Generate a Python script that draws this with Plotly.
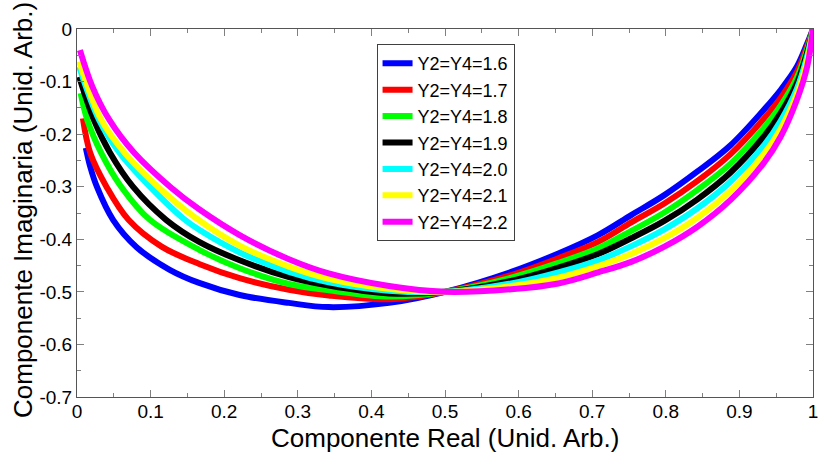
import plotly.graph_objects as go

# Locus of the imaginary vs. real component for each Y2=Y4 admittance value
labels = ["Y2=Y4=1.6", "Y2=Y4=1.7", "Y2=Y4=1.8", "Y2=Y4=1.9",
          "Y2=Y4=2.0", "Y2=Y4=2.1", "Y2=Y4=2.2"]
colors = ["#0000ff", "#ff0000", "#00ff00", "#000000",
          "#00ffff", "#ffff00", "#ff00ff"]

re_16 = [0.012, 0.018, 0.027, 0.049, 0.081, 0.126, 0.166, 0.221, 0.288, 0.342, 0.424, 0.500,
         0.590, 0.654, 0.708, 0.753, 0.798, 0.843, 0.888, 0.933, 0.956, 0.978, 0.992, 1.000]
im_16 = [-0.226, -0.262, -0.300, -0.363, -0.415, -0.458, -0.483, -0.506, -0.521, -0.529, -0.521, -0.500,
         -0.462, -0.427, -0.392, -0.354, -0.316, -0.271, -0.221, -0.154, -0.116, -0.072, -0.028, 0.000]

re_17 = [0.008, 0.018, 0.040, 0.070, 0.115, 0.166, 0.221, 0.288, 0.342, 0.424, 0.500,
         0.590, 0.654, 0.708, 0.753, 0.798, 0.843, 0.888, 0.933, 0.956, 0.978, 0.992, 1.000]
im_17 = [-0.170, -0.236, -0.300, -0.363, -0.414, -0.447, -0.474, -0.496, -0.507, -0.514, -0.500,
         -0.468, -0.436, -0.405, -0.368, -0.332, -0.289, -0.238, -0.171, -0.131, -0.082, -0.033, 0.000]

re_18 = [0.005, 0.014, 0.033, 0.060, 0.099, 0.166, 0.221, 0.288, 0.342, 0.424, 0.500,
         0.590, 0.654, 0.708, 0.753, 0.798, 0.843, 0.888, 0.933, 0.956, 0.978, 0.992, 1.000]
im_18 = [-0.122, -0.173, -0.236, -0.300, -0.363, -0.420, -0.455, -0.485, -0.497, -0.509, -0.500,
         -0.473, -0.445, -0.417, -0.384, -0.349, -0.306, -0.256, -0.188, -0.146, -0.093, -0.039, 0.000]

re_19 = [0.003, 0.023, 0.045, 0.076, 0.121, 0.166, 0.221, 0.288, 0.342, 0.424, 0.500,
         0.590, 0.654, 0.708, 0.753, 0.798, 0.843, 0.888, 0.933, 0.956, 0.978, 0.992, 1.000]
im_19 = [-0.091, -0.173, -0.236, -0.300, -0.363, -0.405, -0.440, -0.472, -0.488, -0.503, -0.500,
         -0.479, -0.454, -0.428, -0.398, -0.365, -0.324, -0.273, -0.205, -0.160, -0.103, -0.045, 0.000]

re_20 = [0.003, 0.030, 0.058, 0.099, 0.144, 0.166, 0.221, 0.288, 0.342, 0.424, 0.500,
         0.590, 0.654, 0.708, 0.753, 0.798, 0.843, 0.888, 0.933, 0.956, 0.978, 0.992, 1.000]
im_20 = [-0.072, -0.173, -0.236, -0.300, -0.360, -0.382, -0.425, -0.462, -0.482, -0.498, -0.500,
         -0.484, -0.463, -0.440, -0.413, -0.381, -0.341, -0.290, -0.222, -0.175, -0.114, -0.052, 0.000]

re_21 = [0.003, 0.033, 0.065, 0.110, 0.162, 0.221, 0.288, 0.342, 0.424, 0.500,
         0.590, 0.654, 0.708, 0.753, 0.798, 0.843, 0.888, 0.933, 0.956, 0.978, 0.992, 1.000]
im_21 = [-0.062, -0.173, -0.236, -0.300, -0.360, -0.412, -0.452, -0.475, -0.494, -0.500,
         -0.489, -0.473, -0.451, -0.428, -0.398, -0.359, -0.308, -0.238, -0.190, -0.124, -0.060, 0.000]

re_22 = [0.004, 0.021, 0.044, 0.078, 0.128, 0.166, 0.221, 0.288, 0.342, 0.424, 0.500,
         0.590, 0.654, 0.708, 0.753, 0.798, 0.843, 0.888, 0.933, 0.956, 0.978, 0.992, 1.000]
im_22 = [-0.040, -0.110, -0.173, -0.236, -0.302, -0.343, -0.392, -0.438, -0.465, -0.489, -0.500,
         -0.495, -0.484, -0.463, -0.443, -0.414, -0.376, -0.325, -0.255, -0.205, -0.135, -0.072, 0.000]

series_re = [re_16, re_17, re_18, re_19, re_20, re_21, re_22]
series_im = [im_16, im_17, im_18, im_19, im_20, im_21, im_22]

x_ticks = [0, 0.1, 0.2, 0.3, 0.4, 0.5, 0.6, 0.7, 0.8, 0.9, 1]
x_ticktext = ["0", "0.1", "0.2", "0.3", "0.4", "0.5", "0.6", "0.7", "0.8", "0.9", "1"]
x_minor = [0.05, 0.15, 0.25, 0.35, 0.45, 0.55, 0.65, 0.75, 0.85, 0.95]
y_ticks = [0, -0.1, -0.2, -0.3, -0.4, -0.5, -0.6, -0.7]
y_ticktext = ["0", "-0.1", "-0.2", "-0.3", "-0.4", "-0.5", "-0.6", "-0.7"]
y_minor = [-0.05, -0.15, -0.25, -0.35, -0.45, -0.55, -0.65]

x_title = "Componente Real (Unid. Arb.)"
y_title = "Componente Imaginaria (Unid. Arb.)"

FONT = "Liberation Sans, Arial, sans-serif"
AXIS_LINE = "#555555"
TICK_COLOR = "#808080"

fig = go.Figure()
for name, col, xs, ys in zip(labels, colors, series_re, series_im):
    fig.add_trace(go.Scatter(
        x=xs, y=ys, mode="lines", name=name,
        line=dict(color=col, width=6, shape="spline", smoothing=1.0),
    ))

axis_common = dict(
    showline=True, linecolor=AXIS_LINE, linewidth=1, mirror="ticks",
    ticks="inside", ticklen=7, tickwidth=1, tickcolor=TICK_COLOR,
    showgrid=False, zeroline=False, tickmode="array",
    tickfont=dict(family=FONT, size=19, color="black"),
    automargin=False, ticklabeloverflow="allow",
)

fig.update_layout(
    width=819, height=452,
    margin=dict(l=77, r=6, t=29, b=55),
    paper_bgcolor="white", plot_bgcolor="white",
    font=dict(family=FONT, color="black"),
    showlegend=True,
    legend=dict(
        x=0.407, y=0.959, xanchor="left", yanchor="top",
        bgcolor="white", bordercolor="#404040", borderwidth=1,
        font=dict(family=FONT, size=18, color="black"),
        tracegroupgap=0,
    ),
    xaxis=dict(
        range=[0, 1], tickvals=x_ticks, ticktext=x_ticktext,
        ticklabelstandoff=-3,
        minor=dict(tickmode="array", tickvals=x_minor, ticks="inside",
                   ticklen=4, tickcolor=TICK_COLOR),
        **axis_common,
    ),
    yaxis=dict(
        range=[-0.7, 0], tickvals=y_ticks, ticktext=y_ticktext,
        minor=dict(tickmode="array", tickvals=y_minor, ticks="inside",
                   ticklen=4, tickcolor=TICK_COLOR),
        **axis_common,
    ),
    annotations=[
        dict(text=x_title, xref="paper", yref="paper", x=0.5, y=0,
             xanchor="center", yanchor="top", yshift=-24, showarrow=False,
             font=dict(family=FONT, size=26, color="black")),
        dict(text=y_title, xref="paper", yref="paper", x=0, y=0.5,
             xanchor="right", yanchor="middle", xshift=-37, yshift=3,
             textangle=-90, showarrow=False,
             font=dict(family=FONT, size=26, color="black")),
    ],
)

fig.write_html("out.html")
